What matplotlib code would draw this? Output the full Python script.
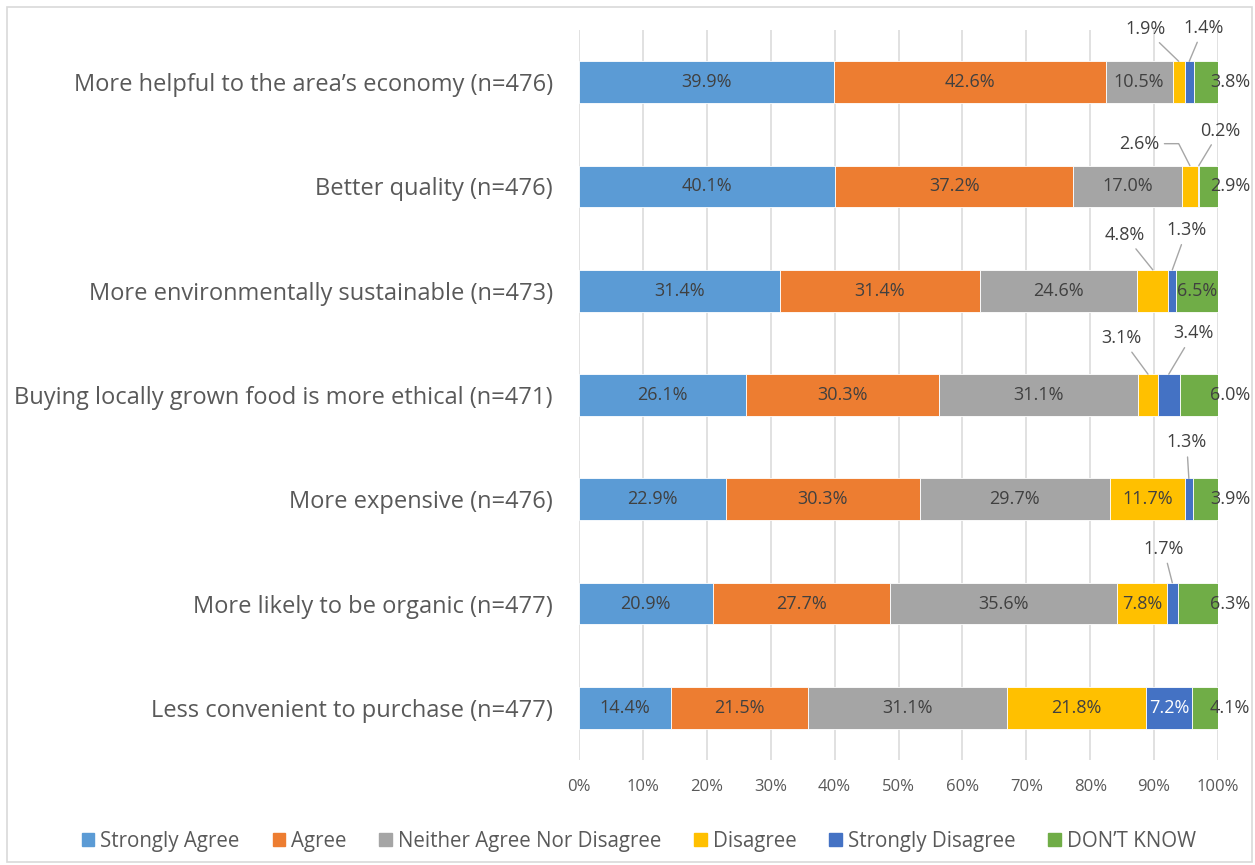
import numpy as np
import matplotlib
matplotlib.use("Agg")
import matplotlib.pyplot as plt
from matplotlib.patches import Patch, Rectangle

plt.rcParams['font.family'] = ['Open Sans', 'DejaVu Sans']

categories = [
    "More helpful to the area\u2019s economy (n=476)",
    "Better quality (n=476)",
    "More environmentally sustainable (n=473)",
    "Buying locally grown food is more ethical (n=471)",
    "More expensive (n=476)",
    "More likely to be organic (n=477)",
    "Less convenient to purchase (n=477)",
]
series_names = ["Strongly Agree", "Agree", "Neither Agree Nor Disagree",
                "Disagree", "Strongly Disagree", "DON\u2019T KNOW"]
strongly_agree = [39.9, 40.1, 31.4, 26.1, 22.9, 20.9, 14.4]
agree = [42.6, 37.2, 31.4, 30.3, 30.3, 27.7, 21.5]
neither = [10.5, 17.0, 24.6, 31.1, 29.7, 35.6, 31.1]
disagree = [1.9, 2.6, 4.8, 3.1, 11.7, 7.8, 21.8]
strongly_disagree = [1.4, 0.2, 1.3, 3.4, 1.3, 1.7, 7.2]
dont_know = [3.8, 2.9, 6.5, 6.0, 3.9, 6.3, 4.1]

colors = ["#5B9BD5", "#ED7D31", "#A5A5A5", "#FFC000", "#4472C4", "#70AD47"]

# small segments labelled with leader lines: (row, series, label x in %, label y offset in rows)
leader_labels = [
    (0, 3, 88.6, -0.51), (0, 4, 97.7, -0.52),
    (1, 3, 87.6, -0.41), (1, 4, 100.3, -0.535),
    (2, 3, 85.4, -0.535), (2, 4, 95.1, -0.58),
    (3, 3, 84.9, -0.545), (3, 4, 96.1, -0.59),
    (4, 4, 95.1, -0.545),
    (5, 4, 91.5, -0.525),
]
# the one leader that bends (goes right from the label, then down)
bent_leaders = {(1, 3): "angle,angleA=0,angleB=117,rad=0"}
# DON'T KNOW labels that sit centred in the bar (others are pushed to the right edge)
centered_dk_rows = [2]

values = np.array([strongly_agree, agree, neither, disagree, strongly_disagree, dont_know])
shares = values / values.sum(axis=0) * 100

fig = plt.figure(figsize=(12.55, 8.65), dpi=100)
ax = fig.add_axes([0.4614, 0.1214, 0.5091, 0.8439])

y = np.arange(len(categories))
bar_h = 0.4
left = np.zeros(len(categories))
centers = np.zeros_like(shares)
for i, name in enumerate(series_names):
    ax.barh(y, shares[i], left=left, height=bar_h, color=colors[i],
            edgecolor="white", linewidth=0.6, label=name, zorder=3)
    centers[i] = left + shares[i] / 2
    left = left + shares[i]

text_col = "#404040"
lab_size = 13
leader_set = {(r, s) for r, s, _, _ in leader_labels}
for s in range(len(series_names)):
    for r in range(len(categories)):
        if (r, s) in leader_set:
            continue
        txt = f"{values[s, r]:.1f}%"
        col = "white" if s == 4 else text_col
        if s == 5 and r not in centered_dk_rows:
            ax.text(101.9, r, txt, ha="center", va="center", fontsize=lab_size,
                    color=text_col, zorder=5, clip_on=False)
        else:
            ax.text(centers[s, r], r, txt, ha="center", va="center", fontsize=lab_size,
                    color=col, zorder=5)

for r, s, lx, dy in leader_labels:
    conn = bent_leaders.get((r, s), "arc3")
    ax.annotate(f"{values[s, r]:.1f}%", xy=(centers[s, r], r - bar_h / 2),
                xytext=(lx, r + dy), ha="center", va="center", fontsize=lab_size,
                color=text_col, annotation_clip=False,
                arrowprops=dict(arrowstyle="-", color="#A6A6A6", lw=1.0,
                                shrinkA=2, shrinkB=0, connectionstyle=conn))

ax.set_xlim(0, 100)
ax.set_ylim(len(categories) - 0.5, -0.5)
ax.set_xticks(np.arange(0, 101, 10))
ax.set_xticklabels([f"{t}%" for t in range(0, 101, 10)])
ax.set_yticks(y)
ax.set_yticklabels(categories)
ax.xaxis.grid(True, color="#D9D9D9", lw=1.1, zorder=0)
ax.set_axisbelow(True)
for sp in ax.spines.values():
    sp.set_visible(False)
ax.tick_params(axis="x", length=0, pad=14, labelsize=12, labelcolor="#595959")
ax.tick_params(axis="y", length=0, pad=19, labelsize=17, labelcolor="#595959")

handles = [Patch(color=c) for c in colors]
fig.legend(handles, series_names, loc="center", bbox_to_anchor=(0.509, 0.027),
           ncol=6, frameon=False, fontsize=14.8, handlelength=0.6, handleheight=0.6,
           handletextpad=0.3, columnspacing=1.6, labelcolor="#595959")

fig.patches.append(Rectangle((0.0056, 0.0035), 0.992, 0.9885, transform=fig.transFigure,
                             fill=False, edgecolor="#D9D9D9", lw=1.2))

fig.savefig("out.png", dpi=100)
